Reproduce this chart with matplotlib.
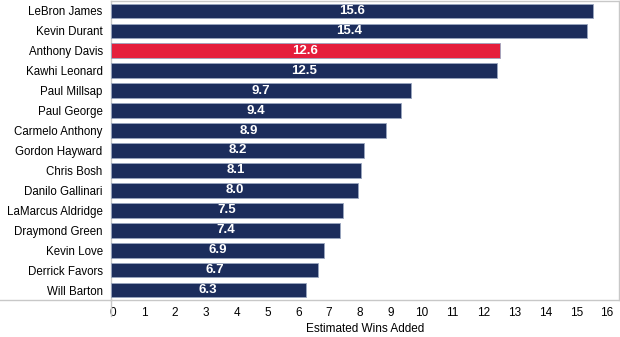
import matplotlib
matplotlib.use("Agg")
import matplotlib.pyplot as plt
from matplotlib.lines import Line2D
from matplotlib.transforms import ScaledTranslation

plt.rcParams["font.family"] = ["Liberation Sans", "DejaVu Sans"]

players = ["LeBron James", "Kevin Durant", "Anthony Davis", "Kawhi Leonard",
           "Paul Millsap", "Paul George", "Carmelo Anthony", "Gordon Hayward",
           "Chris Bosh", "Danilo Gallinari", "LaMarcus Aldridge", "Draymond Green",
           "Kevin Love", "Derrick Favors", "Will Barton"]
wins = [15.6, 15.4, 12.6, 12.5, 9.7, 9.4, 8.9, 8.2, 8.1, 8.0, 7.5, 7.4, 6.9, 6.7, 6.3]
highlight = "Anthony Davis"
xticks = list(range(0, 17))

NAVY = "#1c2d5c"
RED = "#e51e3c"
GRID = "#c8c8c8"

W, H = 620, 337
fig = plt.figure(figsize=(W / 100, H / 100), dpi=100)
ax = fig.add_axes([111 / W, 1 - 300 / H, (619 - 111) / W, 299 / H])

colors = [RED if p == highlight else NAVY for p in players]
ypos = list(range(len(players)))
ax.barh(ypos, wins, height=0.74, color=colors, edgecolor="#9aa6c0", linewidth=0.6, zorder=3)

for y, v in zip(ypos, wins):
    ax.text(v / 2, y, f"{v:.1f}", ha="center", va="center", color="white",
            fontsize=9.5, fontweight="bold", zorder=4)

ax.set_ylim(len(players) - 0.5, -0.5)
ax.set_xlim(0, 16.45)
ax.set_yticks(ypos)
ax.set_yticklabels(players, fontsize=8.3)
ax.set_xticks(xticks)
ax.set_xticklabels([str(t) for t in xticks], fontsize=8.5)
ax.tick_params(axis="both", length=0)
ax.tick_params(axis="x", pad=5)
ax.tick_params(axis="y", pad=6)
ax.set_xlabel("Estimated Wins Added", fontsize=8.5, labelpad=3)

# tick numbers sit a touch right of their positions, as in the source
shift = ScaledTranslation(2 / 100, 0, fig.dpi_scale_trans)
for lab in ax.get_xticklabels():
    lab.set_transform(lab.get_transform() + shift)

for side in ["top", "right", "left", "bottom"]:
    ax.spines[side].set_color(GRID)
    ax.spines[side].set_linewidth(1.0)

# bottom rule runs under the label column too, and the left rule drops into the tick band
fig.add_artist(Line2D([0, 111 / W], [1 - 300 / H, 1 - 300 / H], color=GRID, lw=1.0))
fig.add_artist(Line2D([111 / W, 111 / W], [1 - 300 / H, 1 - 316 / H], color=GRID, lw=1.0))

fig.savefig("out.png", dpi=100, facecolor="white")
